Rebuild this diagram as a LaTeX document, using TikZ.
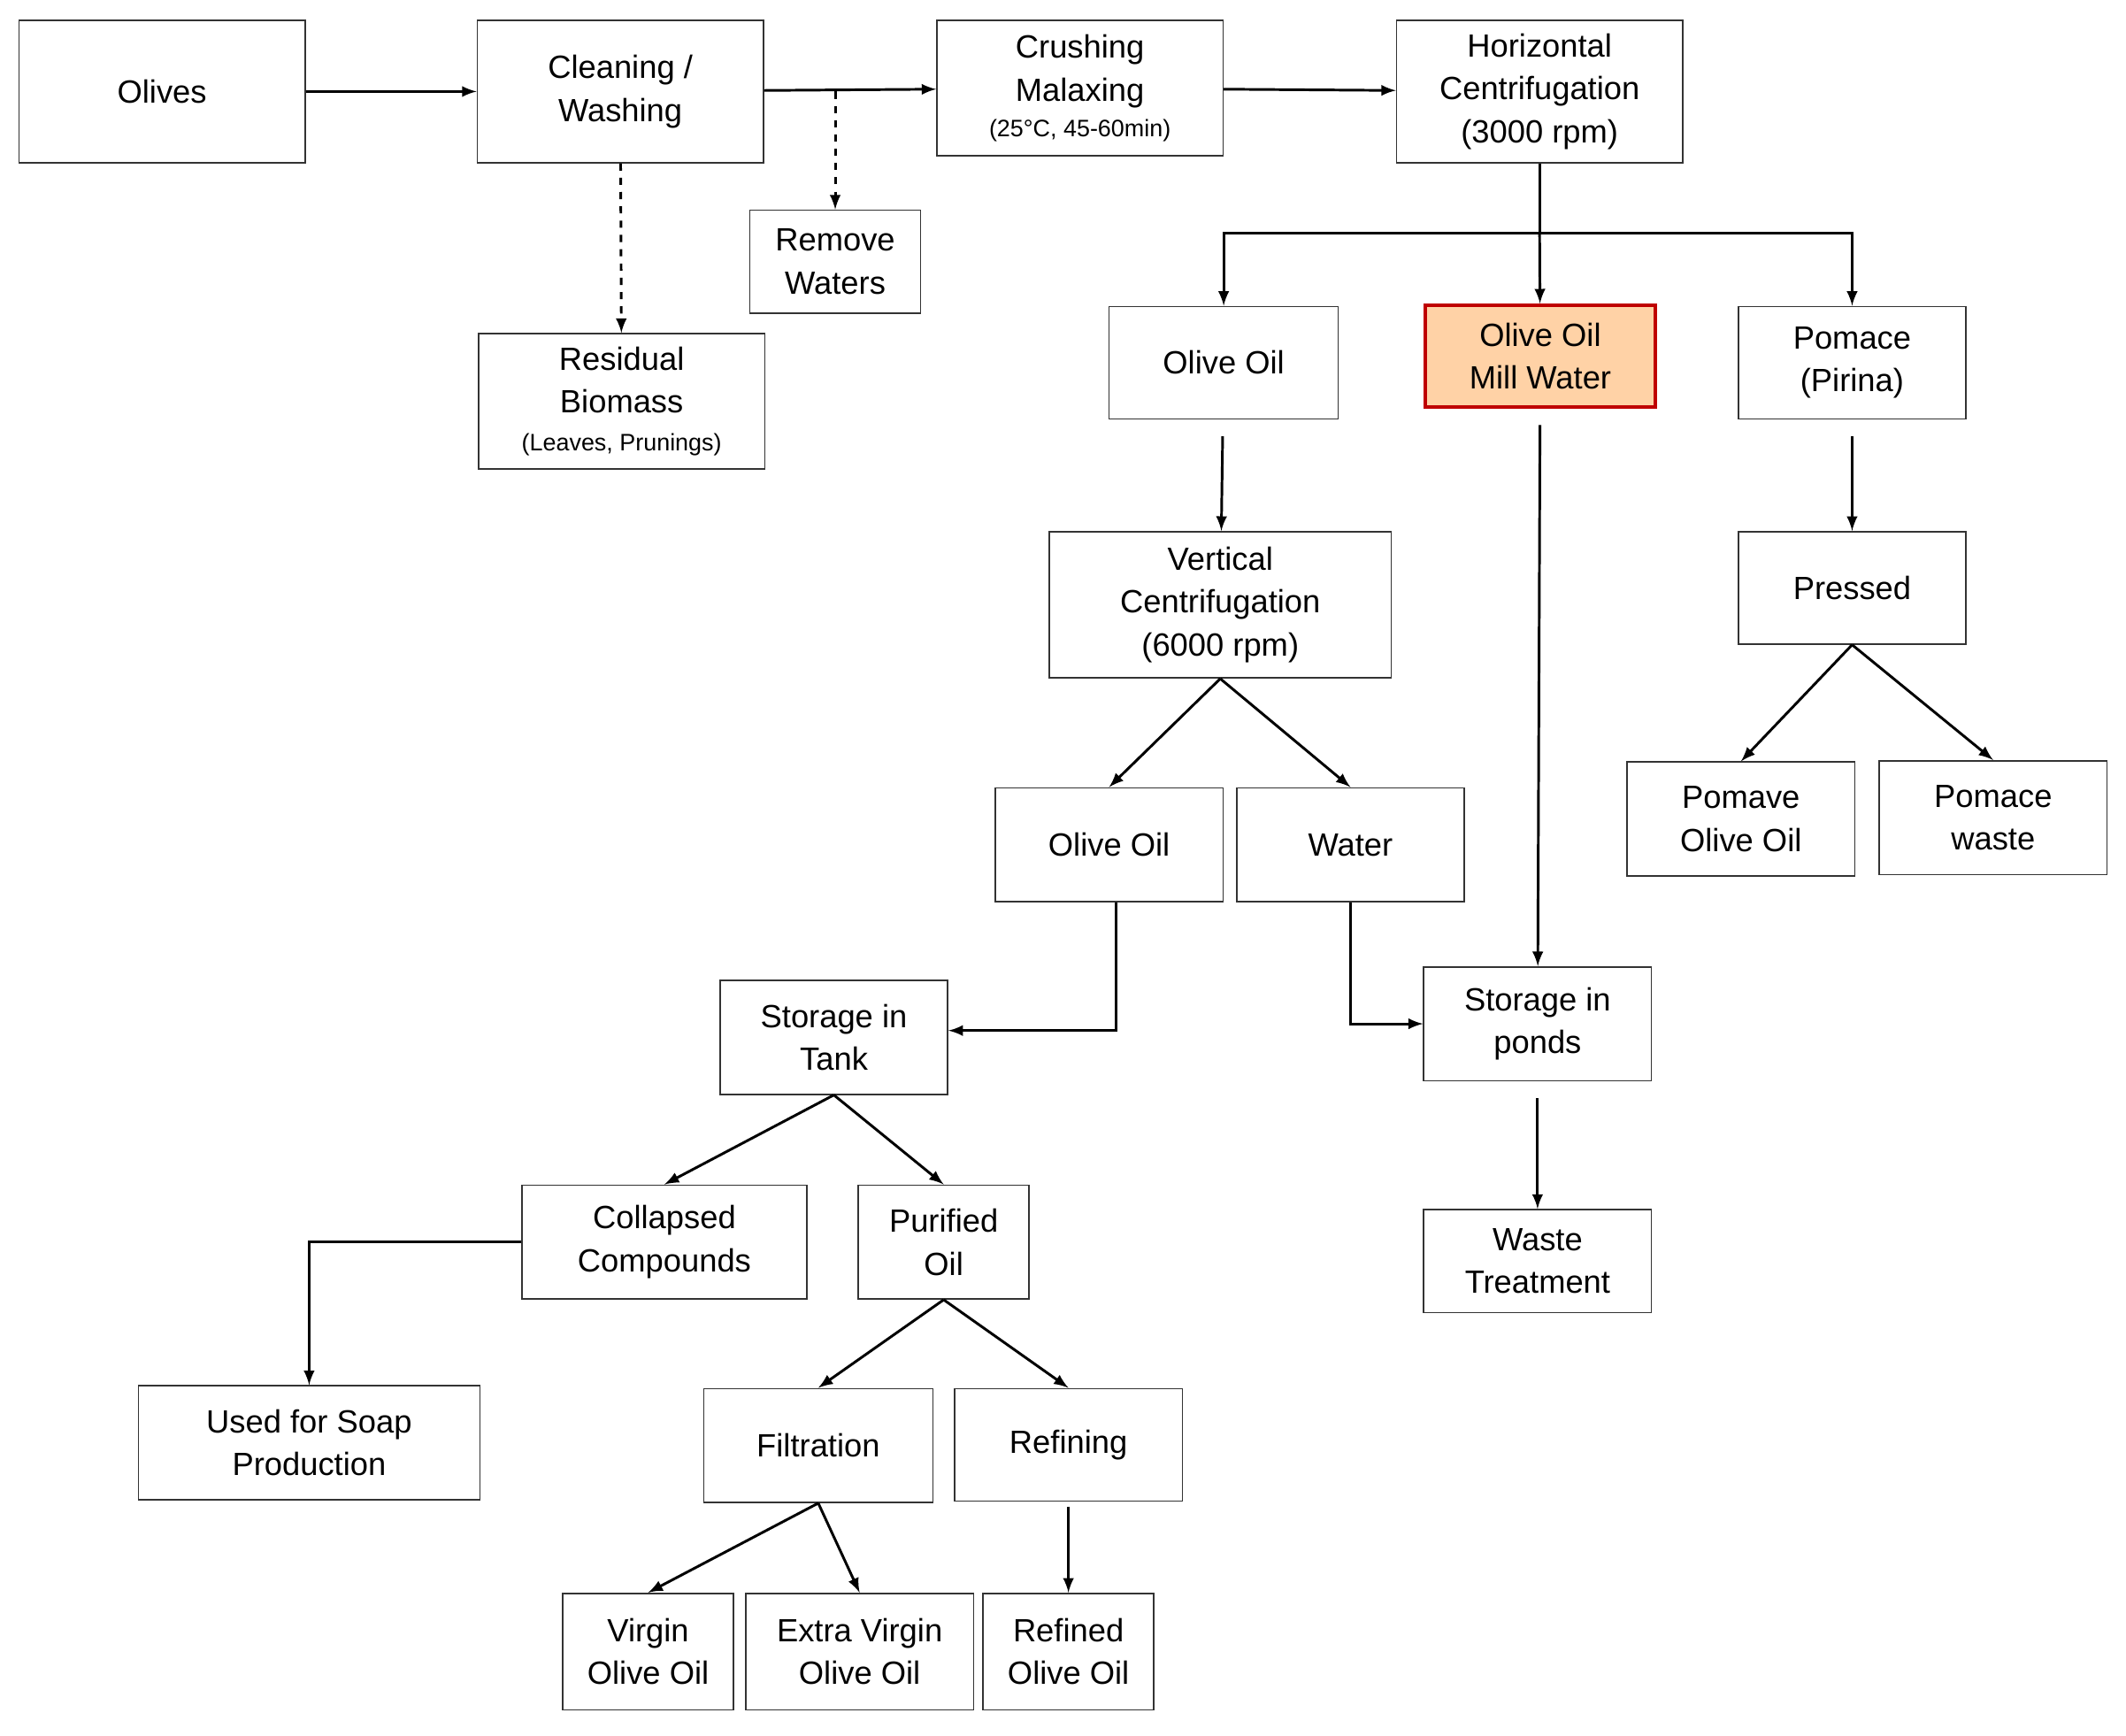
\documentclass[tikz,border=0pt]{standalone}
\usepackage{fontspec}
\setmainfont{Liberation Sans}
\tikzset{
  >=latex,
  box/.style={draw=black!80,line width=0.6pt,align=center,inner sep=0pt,
    font=\fontsize{13.5}{18}\selectfont},
  arr/.style={->,line width=1.1pt},
  dasharr/.style={->,line width=1.1pt,dashed}
}
\newcommand{\sm}[1]{{\fontsize{10}{12}\selectfont #1}}

\begin{document}
\begin{tikzpicture}[x=0.02cm,y=-0.02cm]
  \useasboundingbox (0,0) rectangle (1568,1280);
  % top row
  \node[box,minimum width=4.22cm,minimum height=2.1cm] (olives) at (119.5,67.5) {Olives};
  \node[box,minimum width=4.22cm,minimum height=2.1cm] (clean) at (457.5,67.5) {Cleaning /\\Washing};
  \node[box,minimum width=4.22cm,minimum height=2cm] (crush) at (796.5,65) {Crushing\\Malaxing\\[-3pt]\sm{(25°C, 45-60min)}};
  \node[box,minimum width=4.22cm,minimum height=2.1cm] (hcent) at (1135.5,67.5) {Horizontal\\Centrifugation\\(3000 rpm)};
  \node[box,minimum width=2.52cm,minimum height=1.52cm] (remove) at (616,193) {Remove\\Waters};
  \node[box,minimum width=4.22cm,minimum height=2cm] (resid) at (458.5,296) {Residual\\Biomass\\[-2pt]\sm{(Leaves, Prunings)}};
  % centrifugation products
  \node[box,minimum width=3.38cm,minimum height=1.66cm] (oil1) at (902.5,267.5) {Olive Oil};
  \node[box,draw=red!75!black,line width=1.4pt,fill=orange!35!white,
    minimum width=3.4cm,minimum height=1.5cm] (mill) at (1136,262.5) {Olive Oil\\Mill Water};
  \node[box,minimum width=3.36cm,minimum height=1.66cm] (pomace) at (1366,267.5) {Pomace\\(Pirina)};
  \node[box,minimum width=5.04cm,minimum height=2.16cm] (vcent) at (900,446) {Vertical\\Centrifugation\\(6000 rpm)};
  \node[box,minimum width=3.36cm,minimum height=1.66cm] (pressed) at (1366,433.5) {Pressed};
  \node[box,minimum width=3.36cm,minimum height=1.68cm] (oil2) at (818,623) {Olive Oil};
  \node[box,minimum width=3.36cm,minimum height=1.68cm] (water) at (996,623) {Water};
  \node[box,minimum width=3.36cm,minimum height=1.68cm] (pomoil) at (1284,604) {Pomave\\Olive Oil};
  \node[box,minimum width=3.36cm,minimum height=1.68cm] (pomwaste) at (1470,603) {Pomace\\waste};
  \node[box,minimum width=3.36cm,minimum height=1.68cm] (tank) at (615,765) {Storage in\\Tank};
  \node[box,minimum width=3.36cm,minimum height=1.68cm] (ponds) at (1134,755) {Storage in\\ponds};
  \node[box,minimum width=3.36cm,minimum height=1.52cm] (waste) at (1134,930) {Waste\\Treatment};
  \node[box,minimum width=4.2cm,minimum height=1.68cm] (collapsed) at (490,916) {Collapsed\\Compounds};
  \node[box,minimum width=2.52cm,minimum height=1.68cm] (purified) at (696,916) {Purified\\Oil};
  \node[box,minimum width=5.04cm,minimum height=1.68cm] (soap) at (228,1064) {Used for Soap\\Production};
  \node[box,minimum width=3.38cm,minimum height=1.68cm] (filt) at (603.5,1066) {Filtration};
  \node[box,minimum width=3.36cm,minimum height=1.66cm] (refin) at (788,1065.5) {Refining};
  \node[box,minimum width=2.52cm,minimum height=1.72cm] (virgin) at (478,1218) {Virgin\\Olive Oil};
  \node[box,minimum width=3.36cm,minimum height=1.72cm] (extra) at (634,1218) {Extra Virgin\\Olive Oil};
  \node[box,minimum width=2.52cm,minimum height=1.72cm] (refined) at (788,1218) {Refined\\Olive Oil};

  \coordinate (split) at (616,67.5);
  \coordinate (fork) at (1135.5,172);
  \coordinate (tankbend) at (823,760);
  \coordinate (pondbend) at (996,755);
  \coordinate (soapbend) at (228,916);

  \draw[arr] (olives) -- (clean);
  \draw[arr] (clean) -- (crush);
  \draw[dasharr] (split) -- (remove);
  \draw[dasharr] (clean) -- (resid);
  \draw[arr] (crush) -- (hcent);
  \draw[line width=1.1pt] (hcent) -- (fork);
  \draw[arr] (fork) -| (oil1);
  \draw[arr] (fork) -| (pomace);
  \draw[arr] (fork) -- (mill);
  \draw[arr,shorten <=7pt] (oil1) -- (vcent);
  \draw[arr,shorten <=7pt] (mill) -- (ponds);
  \draw[arr,shorten <=7pt] (pomace) -- (pressed);
  \draw[arr] (vcent.south) -- (oil2.north);
  \draw[arr] (vcent.south) -- (water.north);
  \draw[arr] (pressed.south) -- (pomoil.north);
  \draw[arr] (pressed.south) -- (pomwaste.north);
  \draw[arr] (oil2.south -| tankbend) -- (tankbend) -- (tankbend -| tank.east);
  \draw[arr] (water.south) -- (pondbend) -- (ponds.west);
  \draw[arr,shorten <=7pt] (ponds) -- (waste);
  \draw[arr] (tank.south) -- (collapsed.north);
  \draw[arr] (tank.south) -- (purified.north);
  \draw[arr] (collapsed.west) -- (soapbend) -- (soap.north);
  \draw[arr] (purified.south) -- (filt.north);
  \draw[arr] (purified.south) -- (refin.north);
  \draw[arr] (filt.south) -- (virgin.north);
  \draw[arr] (filt.south) -- (extra.north);
  \draw[arr,shorten <=2pt] (refin) -- (refined);
\end{tikzpicture}
\end{document}
